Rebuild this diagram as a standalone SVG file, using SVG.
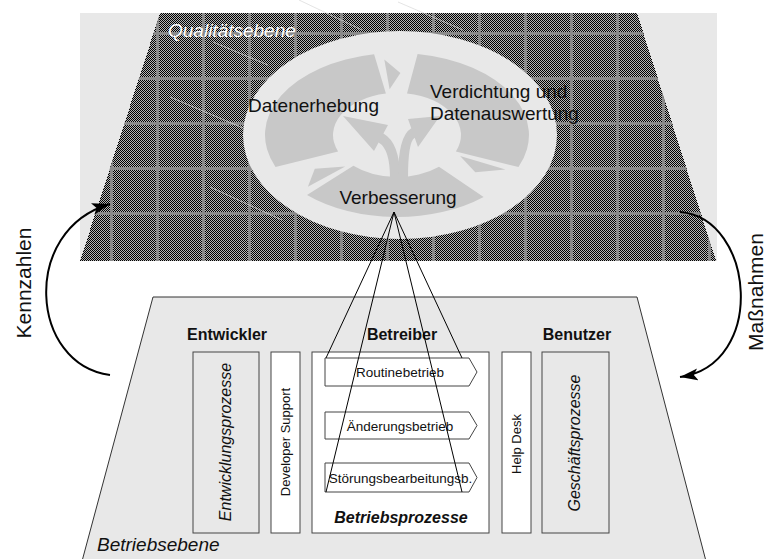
<svg xmlns="http://www.w3.org/2000/svg" width="768" height="559" viewBox="0 0 768 559">
<defs>
<pattern id="chk" width="2" height="2" patternUnits="userSpaceOnUse"><rect width="2" height="2" fill="#b6b6b6" shape-rendering="crispEdges"/><rect width="1" height="1" fill="#000" shape-rendering="crispEdges"/><rect x="1" y="1" width="1" height="1" fill="#000" shape-rendering="crispEdges"/></pattern>
<clipPath id="qclip"><polygon points="160,13 637,13 716,261 80,261"/></clipPath>
<marker id="ah" markerUnits="userSpaceOnUse" markerWidth="20" markerHeight="14" refX="18" refY="6" orient="auto"><path d="M0,0 L18,6 L0,12 L4,6 Z" fill="#000"/></marker>
</defs>
<style>
text{font-family:"Liberation Sans",Arial,sans-serif;fill:#111}
.big{font-size:19px}
.side{font-size:21px}
.hdr{font-size:16px;font-weight:bold;text-anchor:middle}
.it{font-style:italic}
.mid{text-anchor:middle}
.box{stroke:#444;stroke-width:1}
.gray{fill:#e8e8e8}
.white{fill:#fff}
.seg{fill:#c8c8c8}
.chev{fill:#fff;stroke:#444;stroke-width:1}
.small{font-size:13px}
.proc{font-size:13.5px;text-anchor:middle}
.faint{stroke:#d8d8d8;stroke-width:1;fill:none;opacity:0.7}
.conn{stroke:#000;stroke-width:1;fill:none}
.cyc{stroke:#000;stroke-width:2;fill:none;marker-end:url(#ah)}
</style>

<g id="qualitaetsebene">
<rect x="80" y="13" width="637" height="248" fill="#e8e8e8"/>
<polygon points="160,13 637,13 716,261 80,261" fill="url(#chk)" shape-rendering="crispEdges"/>
<path clip-path="url(#qclip)" stroke="#8a8a8a" stroke-width="3" fill="none" shape-rendering="crispEdges" d="M111,13V261M157,13V261M203,13V261M249,13V261M295,13V261M341,13V261M387,13V261M433,13V261M479,13V261M525,13V261M571,13V261M617,13V261M663,13V261M709,13V261M80,33H717M80,78H717M80,123H717M80,168H717M80,213H717"/>
<path class="faint" d="M299,0L362,30M398,2L463,30M213,42L268,65M170,97L243,128M210,187L282,220"/>
<text x="168" y="37" class="big it" style="fill:#fff">Qualitätsebene</text>
</g>

<g id="zyklus">
<ellipse cx="400" cy="135" rx="157" ry="104" fill="#e8e8e8"/>
<path class="seg" d="M275.5,167.0 A132,82 0 0 1 374.1,54.2 L385.9,93.6 A64,42 0 0 0 338.1,151.4 Z"/>
<path class="seg" d="M417.6,54.0 A132,82 0 0 1 518.5,167.0 L455.9,151.4 A64,42 0 0 0 407.0,93.5 Z"/>
<path class="seg" d="M483.6,196.9 A132,82 0 0 1 307.0,195.0 L353.4,165.7 A64,42 0 0 0 439.0,166.7 Z"/>
<polygon class="seg" points="460.1,155.9 505.5,169.5 475.3,172.3"/>
<polygon class="seg" points="345.2,166.4 307.9,186.8 314.8,168.8"/>
<polygon class="seg" points="389.6,89.3 384.3,59.4 400.4,73.0"/>
<path class="seg" d="M390,178 Q390,149 378.6,142.4 L374,151 L343,116 L388,125 L383.4,133.6 Q400,143 400,178 Z"/>
<path class="seg" d="M398,178 Q398,136 411.3,128.3 L408,119 L440,116 L418,147 L414.7,137.7 Q408,141.5 408,178 Z"/>
</g>

<g id="datenerhebung"><text x="248" y="112" class="big">Datenerhebung</text></g>
<g id="verdichtung"><text x="430" y="98" class="big">Verdichtung und</text><text x="430" y="120" class="big">Datenauswertung</text></g>
<g id="verbesserung"><text x="398" y="204" class="big mid">Verbesserung</text></g>

<g id="betriebsebene">
<polygon points="153,297 637,297 707,565 81,565" fill="#e8e8e8" stroke="#333" stroke-width="1"/>
<text x="97" y="551" class="big it">Betriebsebene</text>
</g>

<g id="entwickler">
<text x="227" y="340" class="hdr">Entwickler</text>
<rect x="193" y="352" width="66" height="181" class="box gray"/>
<text transform="translate(231,442) rotate(-90)" class="mid it" font-size="16">Entwicklungsprozesse</text>
</g>
<g id="developer-support">
<rect x="271" y="352" width="29" height="181" class="box white"/>
<text transform="translate(290,442) rotate(-90)" class="mid small">Developer Support</text>
</g>
<g id="betreiber">
<text x="402" y="340" class="hdr">Betreiber</text>
<rect x="312" y="352" width="177" height="181" class="box white"/>
<text x="401" y="523" class="hdr it">Betriebsprozesse</text>
</g>
<g id="routinebetrieb">
<polygon class="chev" points="325,358 469,358 477,372 469,386 325,386"/>
<text x="400" y="377" class="proc">Routinebetrieb</text>
</g>
<g id="aenderungsbetrieb">
<polygon class="chev" points="325,412 469,412 477,425.5 469,439 325,439"/>
<text x="400" y="430.5" class="proc">Änderungsbetrieb</text>
</g>
<g id="stoerungsbearbeitung">
<polygon class="chev" points="325,463 469,463 477,477.5 469,492 325,492"/>
<text x="400.5" y="482.5" class="proc">Störungsbearbeitungsb.</text>
</g>
<g id="help-desk">
<rect x="502" y="352" width="29" height="181" class="box white"/>
<text transform="translate(521,444) rotate(-90)" class="mid small">Help Desk</text>
</g>
<g id="benutzer">
<text x="577" y="340" class="hdr">Benutzer</text>
<rect x="542" y="352" width="67" height="181" class="box gray"/>
<text transform="translate(580,443) rotate(-90)" class="mid it" font-size="16">Geschäftsprozesse</text>
</g>

<g id="connectors">
<path class="conn" d="M394,212L326,358M394,212L462,358M394,212L326,492M394,212L462,492"/>
<path class="cyc" d="M110,375 C30,365 20,230 110,204"/>
<path class="cyc" d="M680,212 C755,218 767,365 680,377"/>
</g>

<g id="kennzahlen"><text transform="translate(31,283) rotate(-90)" class="side mid">Kennzahlen</text></g>
<g id="massnahmen"><text transform="translate(763,292) rotate(-90)" class="side mid">Maßnahmen</text></g>
</svg>
